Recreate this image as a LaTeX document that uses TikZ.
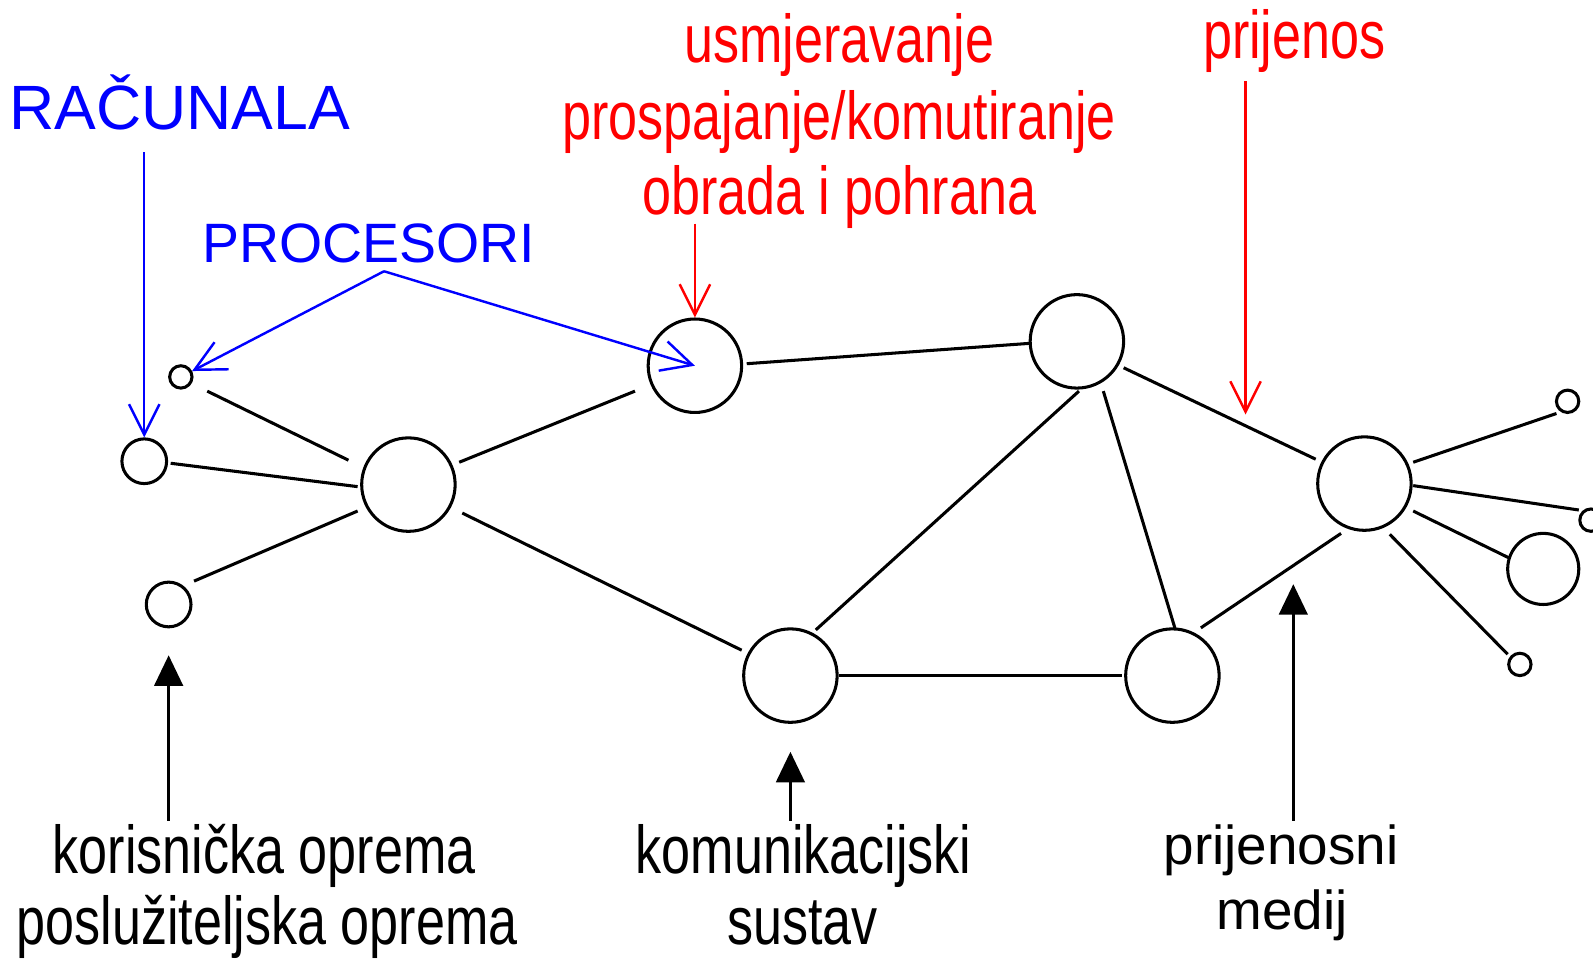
\documentclass[tikz,border=0pt]{standalone}
\usepackage{fontspec}
\setmainfont{Liberation Sans}
\newfontfamily\narrowfont[FakeStretch=0.77]{Liberation Sans}
\usetikzlibrary{arrows.meta}
\tikzset{
  nd/.style={circle,draw,line width=1.5pt,inner sep=0pt,minimum size=#1},
  ln/.style={line width=1.5pt},
  klab/.style={inner sep=0pt,anchor=base,font=\narrowfont\fontsize{33.3}{40}\selectfont},
  rlab/.style={klab,text=red},
  mlab/.style={inner sep=0pt,anchor=base,font=\fontsize{27}{32}\selectfont},
  blab/.style={inner sep=0pt,anchor=base,text=blue},
  barb/.style={line width=1.2pt,-{Straight Barb[length=15pt,width=15pt,line width=1.2pt]}},
  tri/.style={line width=1.5pt,-{Triangle[length=15pt,width=14pt]}},
}
\begin{document}
\begin{tikzpicture}[x=0.5pt,y=-0.5pt]
\useasboundingbox (0,0) rectangle (1568,946);
% mreza
\node[nd=11pt] (a) at (178,371) {};
\node[nd=22pt] (b) at (142,454) {};
\node[nd=22pt] (c) at (166,595) {};
\node[nd=46pt] (d) at (402,477) {};
\node[nd=46pt] (e) at (684,360) {};
\node[nd=46pt] (f) at (1060,336) {};
\node[nd=46pt] (g) at (778,665) {};
\node[nd=46pt] (h) at (1154,665) {};
\node[nd=46pt] (i) at (1343,476) {};
\node[nd=11pt] (j) at (1543,395) {};
\node[nd=11pt] (k) at (1566,512) {};
\node[nd=35pt] (l) at (1519,560) {};
\node[nd=11pt] (m) at (1496,654) {};
\foreach \u/\ux/\uy/\v/\vx/\vy in {a/26/14/d/-59/-24,b/26/2/d/-50/2,c/25/-23/d/-50/26,
  d/50/-22/e/-59/25,d/53/28/g/-48/-25,e/51/-2/f/-47/2,f/46/26/i/-48/-24,
  f/2/49/g/25/-45,f/26/49/h/3/-45,g/48/0/h/-50/0,h/28/-47/i/-23/49,
  i/48/-21/j/-11/12,i/48/2/k/-12/-10,i/48/27/l/-34/-11,i/25/50/m/-12/-10}
  \draw[ln]([shift={(\ux,\uy)}]\u.center)--([shift={(\vx,\vy)}]\v.center);
% natpisi
\node[blab,font=\fontsize{30.8}{37}\selectfont] (rac) at (177,127) {RAČUNALA};
\node[blab,font=\fontsize{27.3}{33}\selectfont] (proc) at (363,258) {PROCESORI};
\node[rlab] (usm) at (826,62) {usmjeravanje};
\node[rlab] (prosp) at (826,137) {prospajanje/komutiranje};
\node[rlab] (obr) at (826,211) {obrada i pohrana};
\node[rlab] (prij) at (1274,58) {prijenos};
\node[klab] (kor) at (260,860) {korisnička oprema};
\node[klab] (posl) at (263,930) {poslužiteljska oprema};
\node[klab] (kom) at (791,860) {komunikacijski};
\node[klab] (sus) at (790,930) {sustav};
\node[mlab] (pmed) at (1261,851) {prijenosni};
\node[mlab] (med) at (1262,915) {medij};
% strelice
\coordinate (rac0) at (142,150);
\coordinate (proc0) at (378,267);
\coordinate (obr0) at (684,220);
\coordinate (prij0) at (1226,80);
\coordinate (prij1) at (1226,408);
\draw[barb,blue](rac0)--(b.north);
\draw[barb,blue](proc0)--(a);
\draw[barb,blue](proc0)--(e.center);
\draw[barb,red](obr0)--(e.north);
\draw[barb,red](prij0)--(prij1);
\coordinate (kor0) at (166,808);
\coordinate (kor1) at (166,645);
\coordinate (kom0) at (778,808);
\coordinate (kom1) at (778,740);
\coordinate (pmed0) at (1273,808);
\coordinate (pmed1) at (1273,575);
\draw[tri](kor0)--(kor1);
\draw[tri](kom0)--(kom1);
\draw[tri](pmed0)--(pmed1);
\end{tikzpicture}
\end{document}
